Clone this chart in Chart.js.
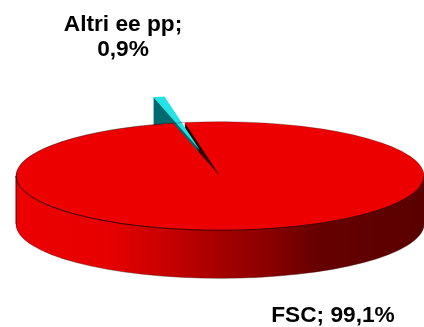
<!DOCTYPE html>
<html><head><meta charset="utf-8">
<style>html,body{margin:0;padding:0;background:#fff}#w{width:424px;height:327px;position:relative}</style>
<script src="https://cdn.jsdelivr.net/npm/chart.js@4"></script></head>
<body><div id="w"><canvas id="c" width="424" height="327"></canvas></div>
<script>
const categories = ['Altri ee pp', 'FSC'];
const shares = [0.9, 99.1];
const shareLabels = ['0,9%', '99,1%'];
const topColors = ['#22e4e4', '#ec0000'];
const sideColors = ['#006a6e', '#ec0000'];

const CX = 220, CY = 176, SQUASH = 0.266, DEPTH = 48, SLICE_DEPTH = 30, EXPLODE = 100, FONT = 'bold 22.7px "Liberation Sans", Arial, sans-serif';

function toPie(ctx, pivot, dy) {
  ctx.translate(CX, CY + dy);
  ctx.scale(1, SQUASH);
  ctx.translate(-pivot.x, -pivot.y);
}
function drawFlat(ctx, el, pivot, color, dy) {
  const saved = el.options;
  el.options = Object.assign({}, saved, {backgroundColor: color, borderWidth: 0});
  ctx.save();
  toPie(ctx, pivot, dy);
  el.draw(ctx);
  ctx.restore();
  el.options = saved;
}
const pie3d = {
  id: 'pie3d',
  afterDatasetsUpdate(chart) {
    const slice = chart.getDatasetMeta(0).data[0];
    const mid = (slice.startAngle + slice.endAngle) / 2;
    slice.x += Math.cos(mid) * EXPLODE;
    slice.y += Math.sin(mid) * EXPLODE;
  },
  beforeDatasetsDraw(chart) {
    const ctx = chart.ctx, arcs = chart.getDatasetMeta(0).data, main = arcs[1], slice = arcs[0];
    const g = ctx.createLinearGradient(main.x - 204, 0, main.x + 204, 0);
    g.addColorStop(0, '#ec0000'); g.addColorStop(0.23, '#e60000'); g.addColorStop(0.35, '#cc0000');
    g.addColorStop(0.48, '#aa0000'); g.addColorStop(0.61, '#8c0000'); g.addColorStop(0.74, '#660000'); g.addColorStop(1, '#5a0000');
    ctx.save(); ctx.beginPath(); ctx.rect(0, 0, 424, CY); ctx.clip();
    for (let d = DEPTH; d >= 1; d--) drawFlat(ctx, main, main, '#2a0000', d);
    ctx.restore();
    ctx.save(); ctx.beginPath(); ctx.rect(0, CY, 424, 327); ctx.clip();
    for (let d = DEPTH; d >= 1; d--) drawFlat(ctx, main, main, g, d);
    ctx.restore();
    for (let d = SLICE_DEPTH; d >= 1; d--) drawFlat(ctx, slice, main, sideColors[0], d);
    ctx.save();
    toPie(ctx, main, 0);
  },
  afterDatasetsDraw(chart) {
    const ctx = chart.ctx, main = chart.getDatasetMeta(0).data[1];
    ctx.restore();
    const edge = (dy, from, to, color, width) => {
      ctx.save();
      ctx.save();
      toPie(ctx, main, dy);
      ctx.beginPath();
      ctx.arc(main.x, main.y, main.outerRadius, from, to);
      ctx.restore();
      ctx.strokeStyle = color; ctx.lineWidth = width; ctx.stroke();
      ctx.restore();
    };
    edge(0, 0, Math.PI, '#4a0000', 1);
    edge(0, Math.PI, main.endAngle, 'rgba(70,0,0,0.45)', 0.7);
    edge(0, main.startAngle, 2 * Math.PI, 'rgba(70,0,0,0.45)', 0.7);
    edge(DEPTH, 0, Math.PI, 'rgba(70,0,0,0.55)', 0.8);
    ctx.save();
    ctx.strokeStyle = '#5a0000'; ctx.lineWidth = 1;
    ctx.beginPath(); ctx.moveTo(CX - main.outerRadius, CY); ctx.lineTo(CX - main.outerRadius, CY + DEPTH); ctx.stroke();
    ctx.restore();
  },
  afterDraw(chart) {
    const ctx = chart.ctx;
    ctx.save();
    ctx.fillStyle = '#000'; ctx.font = FONT; ctx.textAlign = 'center'; ctx.textBaseline = 'middle';
    ctx.fillText(categories[0] + ';', 123, 24.5);
    ctx.fillText(shareLabels[0], 123, 50);
    ctx.fillText(categories[1] + '; ' + shareLabels[1], 333, 316);
    ctx.restore();
  }
};
new Chart(document.getElementById('c'), {
  type: 'pie',
  data: { labels: categories, datasets: [{
    data: shares, backgroundColor: topColors, borderWidth: 0, clip: false, radius: 204
  }]},
  options: {
    responsive: false, animation: false, rotation: -13.24,
    layout: {padding: 0},
    plugins: {legend: {display: false}, tooltip: {enabled: false}}
  },
  plugins: [pie3d]
});
</script></body></html>
